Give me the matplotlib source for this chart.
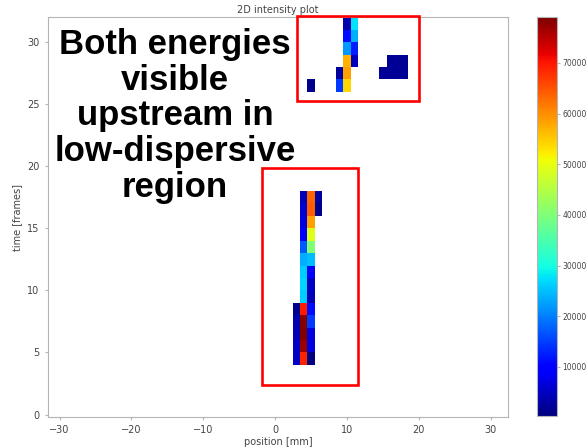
import numpy as np
import matplotlib
matplotlib.use("Agg")
import matplotlib.pyplot as plt
from matplotlib.patches import Rectangle

# ---- data (position column centre in mm, frame index, intensity) ----
x_centres = np.arange(-31, 33)          # 64 detector columns, 1 mm each
n_frames = 32

# lower cluster
col3_rows = [4, 5, 6, 7, 8]
col3_vals = [5000, 5000, 4000, 3500, 1500]
col4_rows = list(range(4, 18))
col4_vals = [69000, 77000, 79000, 78500, 69500, 26000, 26500, 26000, 23500,
             17000, 9500, 7000, 6000, 4500]
col5_rows = list(range(4, 18))
col5_vals = [300, 7000, 7000, 14500, 11000, 4500, 5000, 9000, 24700, 40000,
             49000, 58500, 64000, 63500]
col6_rows = [16, 17]
col6_vals = [1500, 2500]

# upper cluster
up5_rows = [26]
up5_vals = [1500]
up9_rows = [26, 27]
up9_vals = [14500, 2500]
up10_rows = [26, 27, 28, 29, 30, 31]
up10_vals = [54000, 58500, 57000, 22000, 11000, 3500]
up11_rows = [28, 29, 30, 31]
up11_vals = [4500, 12500, 23500, 27500]
blob_row27_cols = [15, 16, 17, 18]
blob_row27_vals = [2000, 2000, 2000, 2000]
blob_row28_cols = [16, 17, 18]
blob_row28_vals = [2000, 2000, 2000]

columns = {3: (col3_rows, col3_vals), 4: (col4_rows, col4_vals),
           5: (col5_rows, col5_vals), 6: (col6_rows, col6_vals)}
upper_columns = {5: (up5_rows, up5_vals), 9: (up9_rows, up9_vals),
                 10: (up10_rows, up10_vals), 11: (up11_rows, up11_vals)}
rows_blob = {27: (blob_row27_cols, blob_row27_vals),
             28: (blob_row28_cols, blob_row28_vals)}

grid = np.full((n_frames, len(x_centres)), np.nan)
for col, (rws, vals) in list(columns.items()) + list(upper_columns.items()):
    ci = int(np.where(x_centres == col)[0][0])
    for r, v in zip(rws, vals):
        grid[r, ci] = v
for r, (cols, vals) in rows_blob.items():
    for c, v in zip(cols, vals):
        ci = int(np.where(x_centres == c)[0][0])
        grid[r, ci] = v
data = np.ma.masked_invalid(grid)

x_edges = np.append(x_centres - 0.5, x_centres[-1] + 0.5)
y_edges = np.arange(n_frames + 1)

# ---- figure ----
W, H = 587, 448
fig = plt.figure(figsize=(W / 100, H / 100), dpi=100)

def fx(px):
    return px / W

def fy(py):
    return 1 - py / H

ax = fig.add_axes([fx(48), fy(417), fx(508) - fx(48), fy(17.3) - fy(417)])
cax = fig.add_axes([fx(537), fy(416), fx(557) - fx(537), fy(17.3) - fy(416)])

mesh = ax.pcolormesh(x_edges, y_edges, data, cmap="jet")
ax.set_xlim(-31.6, 32.4)
ax.set_ylim(-0.2, 32)
ax.set_xticks([-30, -20, -10, 0, 10, 20, 30])
ax.set_yticks([0, 5, 10, 15, 20, 25, 30])

grey = "#444444"
for s in ax.spines.values():
    s.set_color("#b5b5b5")
ax.tick_params(labelsize=7, colors="#b5b5b5", labelcolor=grey, length=2.5)
ax.set_xlabel("position [mm]", fontsize=7, color=grey, labelpad=1)
ax.set_ylabel("time [frames]", fontsize=7, color=grey, labelpad=4)
ax.set_title("2D intensity plot", fontsize=7, color=grey, pad=3)

cb = fig.colorbar(mesh, cax=cax)
cb.set_ticks([10000, 20000, 30000, 40000, 50000, 60000, 70000])
cb.ax.tick_params(labelsize=5.5, colors="#b5b5b5", labelcolor=grey,
                  length=2.5, pad=1.5)
cb.outline.set_edgecolor("#b5b5b5")

# annotation text
fig.text(fx(175), fy(116),
         "Both energies\nvisible\nupstream in\nlow-dispersive\nregion",
         ha="center", va="center", fontsize=25, fontweight="bold",
         family="Liberation Sans", color="black", linespacing=1.1)

# red highlight boxes
for (x0, y0, x1, y1) in [(296.5, 16, 419, 101.5), (262, 168, 357.5, 385)]:
    fig.add_artist(Rectangle((fx(x0), fy(y1)), fx(x1) - fx(x0), fy(y0) - fy(y1),
                             transform=fig.transFigure, fill=False,
                             edgecolor="red", linewidth=1.9))

fig.savefig("out.png", dpi=100)
